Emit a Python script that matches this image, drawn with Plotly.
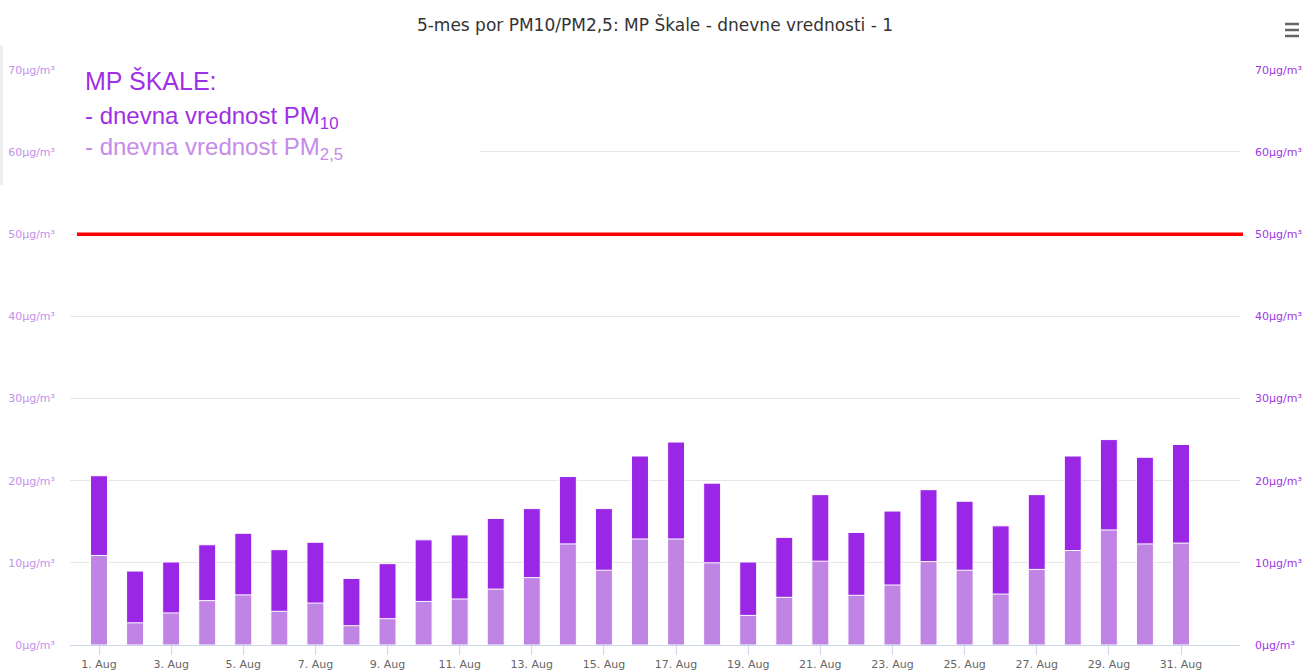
import plotly.graph_objects as go

days = list(range(1, 32))
tick_days = list(range(1, 32, 2))
tick_labels = [f"{d}. Aug" for d in tick_days]

pm10 = [20.6, 9.0, 10.1, 12.2, 13.6, 11.6, 12.5, 8.1, 9.9, 12.8,
        13.4, 15.4, 16.6, 20.5, 16.6, 23.0, 24.7, 19.7, 10.1, 13.1,
        18.3, 13.7, 16.3, 18.9, 17.5, 14.5, 18.3, 23.0, 25.0, 22.85, 24.4]
pm25 = [10.9, 2.7, 3.9, 5.4, 6.1, 4.1, 5.1, 2.35, 3.2, 5.3,
        5.6, 6.8, 8.2, 12.3, 9.1, 12.9, 12.9, 10.0, 3.6, 5.8,
        10.2, 6.05, 7.3, 10.15, 9.1, 6.2, 9.2, 11.5, 14.0, 12.3, 12.4]
limit = 50
y_ticks = [0, 10, 20, 30, 40, 50, 60, 70]
y_tick_text = [f"{v}μg/m³" for v in y_ticks]

C10 = "#9b27e6"
C25 = "#c084e4"
TXT = "DejaVu Sans, sans-serif"
LBL = "Liberation Sans, Arial, sans-serif"

W, H = 1305, 671
L, R, T, B = 70, 65, 69, 26
pw, ph = W - L - R, H - T - B
px_per_day = 36.067
x0r = 1 - (99 - L) / px_per_day
x1r = x0r + pw / px_per_day


def px_x(p):
    return (p - L) / pw


def px_y(p):
    return (H - B - p) / ph


fig = go.Figure()
fig.add_trace(go.Bar(x=days, y=pm10, name="PM10", marker=dict(color=C10, line=dict(color="white", width=1)),
                     width=0.47))
fig.add_trace(go.Bar(x=days, y=pm25, name="PM2,5", marker=dict(color=C25, line=dict(color="white", width=1)),
                     width=0.47))
fig.add_trace(go.Scatter(x=[days[0]], y=[0], yaxis="y2", mode="markers", marker=dict(opacity=0),
                         showlegend=False, hoverinfo="skip"))

shapes = [
    dict(type="rect", xref="x", yref="y", x0=x0r, x1=x0r + (480 - L) / px_per_day, y0=56, y1=72,
         fillcolor="white", line=dict(width=0), layer="between"),
    dict(type="rect", xref="paper", yref="paper", x0=px_x(0), x1=px_x(3), y0=px_y(185), y1=px_y(45),
         fillcolor="#eeeeee", line=dict(width=0)),
    dict(type="line", xref="paper", yref="y", x0=px_x(77), x1=px_x(1243), y0=limit, y1=limit,
         line=dict(color="#ff0000", width=3.5)),
]
for yy in (24, 30, 36):
    shapes.append(dict(type="line", xref="paper", yref="paper", x0=px_x(1285), x1=px_x(1299),
                       y0=px_y(yy), y1=px_y(yy), line=dict(color="#666666", width=2.5)))

annotations = [
    dict(text="MP ŠKALE:", x=px_x(83), y=px_y(81), xref="paper", yref="paper", xanchor="left",
         yanchor="middle", showarrow=False, font=dict(family=LBL, size=25, color="#a030e6")),
    dict(text="- dnevna vrednost PM<sub>10</sub>", x=px_x(83), y=px_y(117), xref="paper", yref="paper",
         xanchor="left", yanchor="middle", showarrow=False, font=dict(family=LBL, size=24, color="#a030e6")),
    dict(text="- dnevna vrednost PM<sub>2,5</sub>", x=px_x(83), y=px_y(149), xref="paper", yref="paper",
         xanchor="left", yanchor="middle", showarrow=False, font=dict(family=LBL, size=24, color="#c68be8")),
]

fig.update_layout(
    width=W, height=H,
    margin=dict(l=L, r=R, t=T, b=B, autoexpand=False),
    paper_bgcolor="white", plot_bgcolor="white",
    barmode="overlay", showlegend=False,
    title=dict(text="5-mes por PM10/PM2,5: MP Škale - dnevne vrednosti - 1", x=655 / W, y=1 - 25 / H,
               xanchor="center", yanchor="middle",
               font=dict(family=TXT, size=17, color="#333333")),
    xaxis=dict(range=[x0r, x1r], tickvals=tick_days, ticktext=tick_labels, showgrid=False, zeroline=False,
               showline=True, linecolor="#ccd6eb", linewidth=1, ticks="outside", ticklen=9, tickcolor="#ccd6eb",
               tickfont=dict(family=TXT, size=11, color="#666666")),
    yaxis=dict(range=[0, 70.1], tickvals=y_ticks, ticktext=y_tick_text, showgrid=True, gridcolor="#e6e6e6",
               zeroline=False, showline=False, ticklabelstandoff=14,
               tickfont=dict(family=TXT, size=11, color="#c490ea")),
    yaxis2=dict(range=[0, 70.1], tickvals=y_ticks, ticktext=y_tick_text, overlaying="y", side="right",
                showgrid=False, zeroline=False, showline=False, ticklabelstandoff=14,
                tickfont=dict(family=TXT, size=11, color="#a035e6")),
    shapes=shapes,
    annotations=annotations,
)

fig.write_html("out.html", config={"displayModeBar": False},
               post_script="document.body.style.margin='0';document.body.style.overflow='hidden';")
